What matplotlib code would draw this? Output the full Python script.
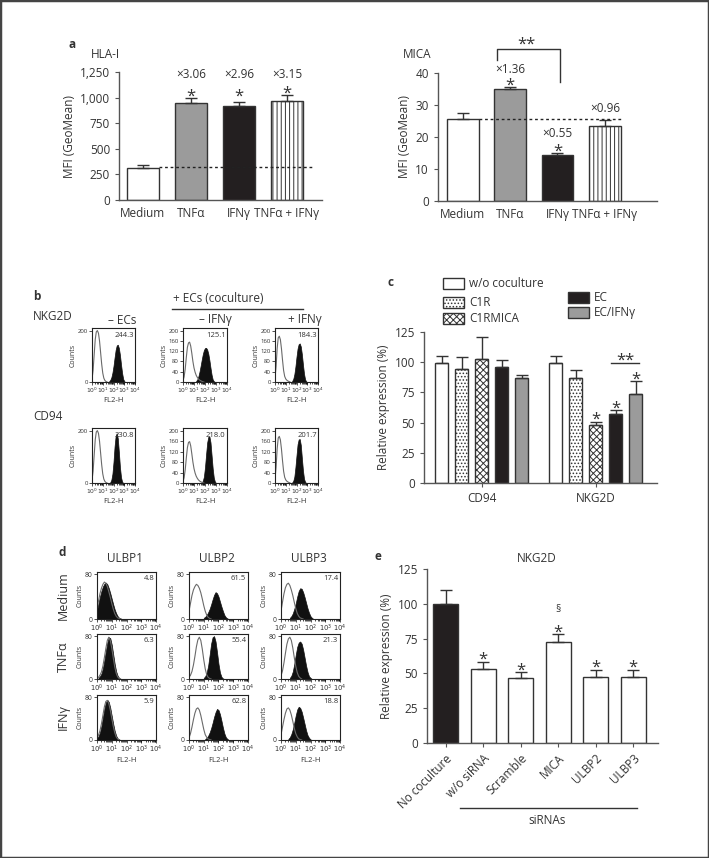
import numpy as np
import matplotlib.pyplot as plt
from matplotlib.patches import Rectangle
from matplotlib.lines import Line2D

plt.rcParams['font.family'] = ['Open Sans', 'DejaVu Sans']
plt.rcParams['hatch.linewidth'] = 0.7
plt.rcParams['hatch.color'] = '#333333'
DARK = '#333333'
TXT = '#333333'
FS = 8.5

# ---- panel a ----
a_labels = ['Medium', 'TNF\u03b1', 'IFN\u03b3', 'TNF\u03b1 + IFN\u03b3']
hla_mean = [316, 946, 917, 966]
hla_err = [27, 49, 39, 55]
hla_base = 325
hla_fold = ['\u00d73.06', '\u00d72.96', '\u00d73.15']
mica_mean = [25.6, 35.0, 14.5, 23.3]
mica_err = [1.8, 0.6, 0.4, 1.9]
mica_base = 25.6

# ---- panel c ----
c_groups = ['CD94', 'NKG2D']
c_series = ['w/o coculture', 'C1R', 'C1RMICA', 'EC', 'EC/IFN\u03b3']
c_cd94 = [99.6, 94.6, 102.4, 96.3, 86.9]
c_cd94_err = [5.3, 9.7, 18.5, 5.2, 2.8]
c_nkg2d = [99.6, 86.9, 47.7, 56.8, 73.4]
c_nkg2d_err = [5.3, 6.9, 2.8, 3.9, 11.0]

# ---- panel e ----
e_labels = ['No coculture', 'w/o siRNA', 'Scramble', 'MICA', 'ULBP2', 'ULBP3']
e_mean = [99.9, 53.3, 46.4, 72.9, 47.3, 47.3]
e_err = [10.0, 4.8, 4.3, 5.7, 5.0, 5.0]

# ---- panel b histograms (start log10, counts every 0.1 decade) ----
b_numbers = [['244.3', '125.1', '184.3'], ['230.8', '218.0', '201.7']]
b_nkg2d_iso = [(0.0, [10, 45, 105, 165, 195, 200, 190, 160, 115, 70, 35, 15, 6, 2, 0]),
               (0.0, [5, 20, 50, 95, 135, 152, 155, 140, 112, 80, 55, 38, 26, 18, 12, 8, 5, 3, 1, 0]),
               (0.0, [15, 60, 130, 172, 178, 165, 130, 85, 45, 22, 12, 7, 4, 2, 0])]
b_nkg2d_stain = [(1.6, [3, 8, 18, 36, 62, 95, 125, 142, 145, 132, 105, 68, 35, 12, 3, 0]),
                 (1.2, [4, 10, 22, 40, 62, 86, 108, 124, 132, 133, 126, 110, 85, 55, 28, 10, 3, 0]),
                 (1.6, [4, 12, 30, 60, 98, 130, 147, 150, 138, 108, 68, 32, 10, 2, 0])]
b_cd94_iso = [(0.0, [10, 45, 105, 165, 195, 200, 190, 160, 115, 70, 35, 15, 6, 2, 0]),
              (0.0, [5, 20, 50, 95, 135, 155, 158, 142, 112, 80, 55, 38, 26, 18, 12, 8, 5, 3, 1, 0]),
              (0.0, [15, 60, 130, 172, 178, 165, 130, 85, 45, 22, 12, 7, 4, 2, 0])]
b_cd94_stain = [(1.7, [3, 12, 35, 80, 140, 180, 190, 170, 118, 60, 22, 5, 0]),
                (1.7, [2, 8, 24, 60, 110, 155, 176, 178, 155, 105, 55, 20, 5, 0]),
                (1.6, [2, 8, 24, 60, 105, 148, 166, 168, 145, 95, 48, 16, 4, 0])]

# ---- panel d histograms ----
d_cols = ['ULBP1', 'ULBP2', 'ULBP3']
d_rows = ['Medium', 'TNF\u03b1', 'IFN\u03b3']
d_numbers = [['4.8', '61.5', '17.4'], ['6.3', '55.4', '21.3'], ['5.9', '62.8', '18.8']]
d_medium_iso = [(0.0, [18, 32, 45, 55, 62, 66, 64, 58, 49, 39, 28, 18, 10, 5, 2, 1, 0]),
                (0.0, [14, 28, 42, 52, 58, 62, 60, 55, 47, 36, 24, 14, 7, 3, 1, 0]),
                (0.0, [14, 30, 45, 56, 62, 64, 60, 52, 42, 30, 19, 10, 5, 2, 1, 0])]
d_medium_stain = [(0.0, [15, 28, 40, 50, 58, 63, 65, 62, 55, 46, 36, 26, 17, 10, 5, 2, 1, 0]),
                  (1.0, [2, 4, 7, 12, 18, 26, 35, 43, 48, 46, 40, 31, 22, 14, 7, 3, 1, 0]),
                  (0.6, [2, 5, 10, 18, 28, 40, 50, 55, 54, 48, 39, 29, 19, 11, 5, 2, 0])]
d_tnf_iso = [(0.1, [3, 7, 13, 24, 40, 57, 72, 78, 72, 58, 40, 23, 11, 4, 1, 0]),
             (0.0, [3, 7, 14, 26, 42, 60, 73, 78, 72, 56, 36, 19, 8, 3, 1, 0]),
             (0.0, [6, 15, 30, 48, 65, 75, 78, 72, 58, 40, 24, 12, 5, 2, 0])]
d_tnf_stain = [(0.1, [2, 5, 10, 20, 35, 52, 68, 78, 76, 64, 46, 28, 14, 6, 2, 0]),
               (1.0, [2, 5, 12, 25, 45, 66, 78, 80, 70, 50, 28, 12, 4, 1, 0]),
               (0.6, [2, 6, 14, 28, 45, 60, 68, 70, 66, 55, 40, 25, 13, 5, 2, 0])]
d_ifn_iso = [(0.0, [4, 9, 17, 30, 46, 62, 72, 74, 68, 56, 41, 26, 14, 6, 2, 0]),
             (0.0, [4, 12, 24, 38, 50, 58, 60, 56, 46, 33, 20, 10, 5, 2, 1, 0]),
             (0.0, [10, 24, 38, 50, 58, 60, 56, 47, 35, 22, 12, 6, 2, 1, 0])]
d_ifn_stain = [(0.0, [3, 7, 14, 26, 42, 58, 70, 75, 71, 60, 45, 30, 17, 8, 3, 1, 0]),
               (1.1, [2, 4, 8, 14, 22, 32, 43, 52, 58, 56, 48, 36, 23, 12, 5, 2, 0]),
               (0.5, [2, 5, 11, 20, 32, 46, 57, 62, 60, 53, 42, 30, 18, 9, 4, 1, 0])]

W, H = 709, 858
fig = plt.figure(figsize=(W / 100, H / 100), dpi=100)


def px_axes(l, t, r, b):
    return fig.add_axes([l / W, 1 - b / H, (r - l) / W, (b - t) / H])


def ftext(x, y, s, **kw):
    kw.setdefault('color', TXT)
    fig.text(x / W, 1 - y / H, s, **kw)


def fline(x0, x1, y):
    fig.add_artist(Line2D([x0 / W, x1 / W], [1 - y / H, 1 - y / H],
                          transform=fig.transFigure, color=DARK, lw=1))


def style(ax, fs=FS):
    for s in ['top', 'right']:
        ax.spines[s].set_visible(False)
    for s in ['left', 'bottom']:
        ax.spines[s].set_color('#555555')
        ax.spines[s].set_linewidth(1)
    ax.tick_params(labelsize=fs, colors='#555555', labelcolor=TXT, length=3, width=0.8)


def star(ax, x, y, s='*', fs=12, dy=-4):
    ax.annotate(s, xy=(x, y), xytext=(0, dy), textcoords='offset points',
                ha='center', va='center', fontsize=fs, color=TXT, annotation_clip=False)


def bars(ax, x, mean, err, colors, hatches, width):
    bs = ax.bar(x, mean, width=width, color=colors, edgecolor=DARK, linewidth=1, zorder=2)
    for b, h in zip(bs, hatches):
        if h:
            b.set_hatch(h)
    ax.errorbar(x, mean, yerr=[np.zeros(len(mean)), err], fmt='none', ecolor=DARK,
                elinewidth=1, capsize=4.5, capthick=1, zorder=3)


a_colors = ['white', '#9b9b9b', '#231f20', 'white']
a_hatch = [None, None, None, '||||']
x4 = np.arange(4)

# panel a left
ax = px_axes(119, 72, 322, 200)
bars(ax, x4, hla_mean, hla_err, a_colors, a_hatch, 0.67)
ax.plot([0.33, 3.55], [hla_base, hla_base], ls=(0, (2, 2)), color='#222222', lw=1, zorder=4)
ax.set_xlim(-0.5, 3.73)
ax.set_ylim(0, 1250)
ax.set_yticks([0, 250, 500, 750, 1000, 1250])
ax.set_yticklabels(['0', '250', '500', '750', '1,000', '1,250'])
ax.set_xticks(x4)
ax.set_xticklabels(a_labels)
style(ax)
ax.tick_params(axis='x', length=0, pad=5)
ax.set_ylabel('MFI (GeoMean)', fontsize=FS, color=TXT, labelpad=3)
for i, f in enumerate(hla_fold):
    ax.text(i + 1, 1230, f, ha='center', va='center', fontsize=FS, color=TXT, clip_on=False)
star(ax, 1, 1061)
star(ax, 2, 1061)
star(ax, 3, 1093)
ftext(72, 44, 'a', fontsize=8.5, fontweight='bold', va='center', ha='center')
ftext(105, 54, 'HLA-I', fontsize=FS, va='center', ha='center')

# panel a right
ax = px_axes(438, 73, 657, 201)
bars(ax, x4, mica_mean, mica_err, a_colors, a_hatch, 0.67)
ax.plot([0.35, 3.37], [mica_base, mica_base], ls=(0, (2, 2)), color='#222222', lw=1, zorder=4)
ax.set_xlim(-0.52, 4.1)
ax.set_ylim(0, 40)
ax.set_yticks([0, 10, 20, 30, 40])
ax.set_xticks(x4)
ax.set_xticklabels(a_labels)
style(ax)
ax.tick_params(axis='x', length=0, pad=5)
ax.set_ylabel('MFI (GeoMean)', fontsize=FS, color=TXT, labelpad=3)
ax.text(1, 41.1, '\u00d71.36', ha='center', va='center', fontsize=FS, color=TXT)
star(ax, 1, 37.7)
ax.text(2, 21.2, '\u00d70.55', ha='center', va='center', fontsize=FS, color=TXT)
star(ax, 2, 17.3)
ax.text(3, 29, '\u00d70.96', ha='center', va='center', fontsize=FS, color=TXT)
ax.plot([0.72, 0.72, 2.05, 2.05], [44, 47.5, 47.5, 37.2], color=DARK, lw=1, clip_on=False)
star(ax, 1.34, 50.6, '**', fs=12)
ftext(417, 54, 'MICA', fontsize=FS, va='center', ha='center')

# panel c
ax = px_axes(424, 332, 657, 483)
c_colors = ['white', 'white', 'white', '#231f20', '#9b9b9b']
c_hatch = [None, '.....', 'xxxxx', None, None]
pos1 = np.arange(5)
pos2 = np.arange(5) + 5.7
bars(ax, pos1, c_cd94, c_cd94_err, c_colors, c_hatch, 0.67)
bars(ax, pos2, c_nkg2d, c_nkg2d_err, c_colors, c_hatch, 0.67)
ax.set_xlim(-0.88, 10.77)
ax.set_ylim(0, 125)
ax.set_yticks([0, 25, 50, 75, 100, 125])
ax.set_xticks([2, 7.7])
ax.set_xticklabels(c_groups)
style(ax)
ax.set_ylabel('Relative expression (%)', fontsize=FS, color=TXT, labelpad=3)
star(ax, pos2[2], 56.8)
star(ax, pos2[3], 66.5)
star(ax, pos2[4], 90.5)
ax.plot([8.48, 9.87], [99.3, 99.3], color=DARK, lw=1, clip_on=False)
star(ax, 9.2, 105.7, '**')
ftext(390, 283, 'c', fontsize=8.5, fontweight='bold', va='center', ha='center')
# legend
leg = [(443, 278, 0), (443, 297, 1), (443, 313, 2), (568, 292, 3), (568, 307, 4)]
for lx, ly, k in leg:
    r = Rectangle((lx / W, 1 - (ly + 11) / H), 21 / W, 11 / H, transform=fig.transFigure,
                  facecolor=c_colors[k], edgecolor=DARK, lw=1, hatch=c_hatch[k])
    fig.add_artist(r)
    ftext(lx + 26, ly + 5.5, c_series[k], fontsize=FS, va='center', ha='left')

# panel e
ax = px_axes(427, 569, 658, 743)
x6 = np.arange(6)
bars(ax, x6, e_mean, e_err, ['#231f20'] + ['white'] * 5, [None] * 6, 0.66)
ax.set_xlim(-0.5, 5.66)
ax.set_ylim(0, 125)
ax.set_yticks([0, 25, 50, 75, 100, 125])
ax.set_xticks(x6)
ax.set_xticklabels(e_labels, rotation=45, ha='right', va='top', rotation_mode='anchor')
style(ax)
ax.set_ylabel('Relative expression (%)', fontsize=FS, color=TXT, labelpad=3)
for xi, yi in zip([1, 2, 3, 4, 5], [64, 55.7, 83.6, 58, 58]):
    star(ax, xi, yi)
ax.text(3, 96, '\u00a7', ha='center', va='center', fontsize=7.5, color=TXT)
ax.plot([0.38, 5.1], [-46.7, -46.7], color=DARK, lw=1, clip_on=False)
ax.text(2.7, -55.5, 'siRNAs', ha='center', va='center', fontsize=FS, color=TXT, clip_on=False)
ftext(378, 557, 'e', fontsize=8.5, fontweight='bold', va='center', ha='center')
ftext(537, 558, 'NKG2D', fontsize=FS, va='center', ha='center')


# histogram helper
def hist_ax(box, iso, stain, ymax, yt, ylab, number, xlabel, fs):
    ax = px_axes(*box)
    s0, cs = stain
    xs = s0 + 0.1 * np.arange(len(cs))
    ax.fill_between(xs, cs, color='#111111', lw=0.5, edgecolor='#111111')
    i0, ci = iso
    xi = i0 + 0.1 * np.arange(len(ci))
    ax.plot(xi, ci, color='#6a6a6a', lw=0.8)
    ax.plot([0, 4], [0.6, 0.6], color='#444444', lw=0.6)
    ax.set_xlim(0, 4)
    ax.set_ylim(0, ymax)
    ax.set_xticks(range(5))
    ax.set_xticklabels(['$10^{%d}$' % k for k in range(5)])
    minors = [k + np.log10(m) for k in range(4) for m in range(2, 10)]
    ax.set_xticks(minors, minor=True)
    ax.set_yticks(yt)
    ax.set_yticklabels(ylab)
    for s in ax.spines.values():
        s.set_color('#222222')
        s.set_linewidth(0.8)
    ax.tick_params(labelsize=fs, length=2, width=0.6, pad=1, colors='#333333')
    ax.tick_params(which='minor', length=1.2, width=0.5)
    ax.set_ylabel('Counts', fontsize=5, color=TXT, labelpad=1)
    if xlabel:
        ax.set_xlabel('FL2-H', fontsize=5.5, color=TXT, labelpad=1)
    ax.text(0.97, 0.93, number, transform=ax.transAxes, ha='right', va='top',
            fontsize=5.5, color=TXT)
    return ax


# panel b
b_cols = [(92, 135), (183, 227), (275, 318)]
b_rows = [(328, 382), (428, 483)]
for r, (iso_l, st_l) in enumerate([(b_nkg2d_iso, b_nkg2d_stain), (b_cd94_iso, b_cd94_stain)]):
    for c in range(3):
        if c == 0:
            yt, yl = [0, 200], ['0', '200']
        else:
            yt = [0, 40, 80, 120, 160, 200]
            yl = [str(v) for v in yt]
        hist_ax((b_cols[c][0], b_rows[r][0], b_cols[c][1], b_rows[r][1]),
                iso_l[c], st_l[c], 210, yt, yl, b_numbers[r][c], True, 4.3)
ftext(37, 297, 'b', fontsize=8.5, fontweight='bold', va='center', ha='center')
ftext(218, 298, '+ ECs (coculture)', fontsize=8.5, va='center', ha='center')
fline(172, 303, 309)
ftext(33, 317, 'NKG2D', fontsize=8.5, va='center', ha='left')
ftext(33, 417, 'CD94', fontsize=8.5, va='center', ha='left')
ftext(122, 320, '\u2013 ECs', fontsize=8.5, va='center', ha='center')
ftext(215, 320, '\u2013 IFN\u03b3', fontsize=8.5, va='center', ha='center')
ftext(305, 320, '+ IFN\u03b3', fontsize=8.5, va='center', ha='center')

# panel d
d_colx = [(97, 156), (189, 248), (281, 340)]
d_rowy = [(572, 619), (634, 679), (695, 740)]
d_data = [(d_medium_iso, d_medium_stain), (d_tnf_iso, d_tnf_stain), (d_ifn_iso, d_ifn_stain)]
for r in range(3):
    for c in range(3):
        hist_ax((d_colx[c][0], d_rowy[r][0], d_colx[c][1], d_rowy[r][1]),
                d_data[r][0][c], d_data[r][1][c], 84, [0, 80], ['0', '80'],
                d_numbers[r][c], r == 2, 4.9)
ftext(62, 552, 'd', fontsize=8.5, fontweight='bold', va='center', ha='center')
for c, name in enumerate(d_cols):
    ftext(sum(d_colx[c]) / 2 - 2, 559, name, fontsize=8.5, va='center', ha='center')
for r, name in enumerate(d_rows):
    ftext(63, sum(d_rowy[r]) / 2, name, fontsize=9, va='center', ha='center', rotation=90)

fig.add_artist(Rectangle((0, 0), 1, 1, transform=fig.transFigure, fill=False,
                         edgecolor='#444444', lw=2.5))

fig.savefig('out.png', dpi=100)
